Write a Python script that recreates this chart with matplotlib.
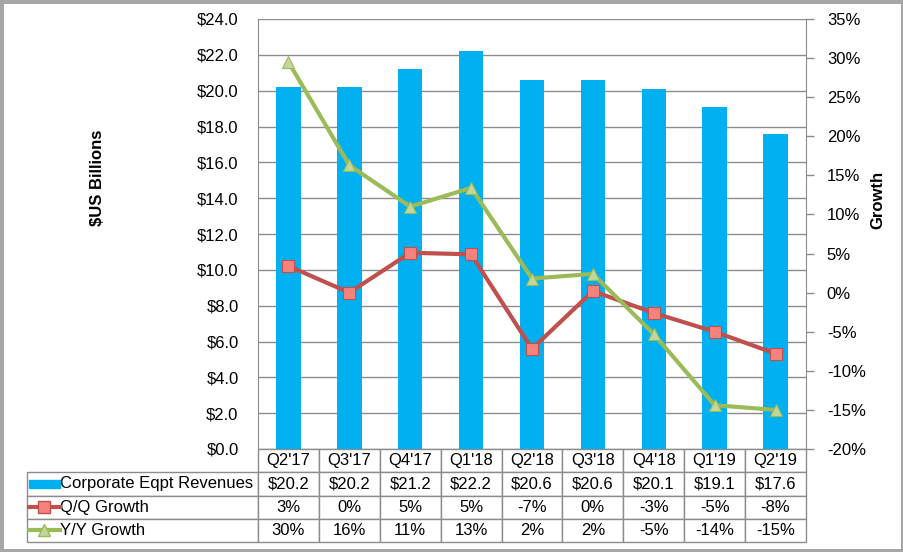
import numpy as np
import matplotlib
matplotlib.use("Agg")
from matplotlib import pyplot as plt
from matplotlib.table import Table
from matplotlib.patches import Rectangle
from matplotlib.lines import Line2D
from matplotlib.ticker import FuncFormatter, MultipleLocator

plt.rcParams["font.family"] = ["Liberation Sans", "DejaVu Sans"]

quarters = ["Q2'17", "Q3'17", "Q4'17", "Q1'18", "Q2'18", "Q3'18", "Q4'18", "Q1'19", "Q2'19"]
revenues = [20.2, 20.2, 21.2, 22.2, 20.6, 20.6, 20.1, 19.1, 17.6]
qq_growth = [3.4, 0.0, 5.1, 4.9, -7.2, 0.2, -2.6, -5.0, -7.8]
yy_growth = [29.5, 16.3, 11.0, 13.4, 1.8, 2.4, -5.3, -14.4, -15.0]

series_names = ["Corporate Eqpt Revenues", "Q/Q Growth", "Y/Y Growth"]

bar_color = "#00B0F0"
qq_color = "#C0504D"
qq_fill = "#F4837D"
yy_color = "#9BBB59"
yy_fill = "#C3D69B"
grid_color = "#8C8C8C"
font_size = 12

fig = plt.figure(figsize=(9.04, 5.52), dpi=100, facecolor="white",
                 edgecolor="#A6A6A6", linewidth=5)

ax = fig.add_axes([258 / 904, 1 - 449 / 552, 548 / 904, 430 / 552])
x = np.arange(len(quarters))

ax.bar(x, revenues, width=0.4, color=bar_color, zorder=2)
ax.set_xlim(-0.5, len(quarters) - 0.5)
ax.set_ylim(0, 24)
ax.yaxis.set_major_locator(MultipleLocator(2))
ax.yaxis.set_major_formatter(FuncFormatter(lambda v, p: f"${v:.1f}"))
ax.grid(axis="y", color=grid_color, linewidth=1, zorder=0)
ax.set_axisbelow(True)
ax.set_xticks([])
ax.tick_params(axis="y", length=0, pad=14, labelsize=font_size)
for side in ["top", "bottom"]:
    ax.spines[side].set_visible(False)
ax.spines["left"].set_color(grid_color)
ax.spines["right"].set_visible(False)
ax.set_ylabel("$US Billions", fontsize=font_size, fontweight="bold")
ax.yaxis.set_label_coords(-0.279, 0.63)

ax2 = ax.twinx()
ax2.plot(x, qq_growth, color=qq_color, linewidth=3, marker="s", markersize=9,
         markerfacecolor=qq_fill, markeredgecolor=qq_color, markeredgewidth=0.8, zorder=3)
ax2.plot(x, yy_growth, color=yy_color, linewidth=3, marker="^", markersize=9,
         markerfacecolor=yy_fill, markeredgecolor=yy_color, markeredgewidth=0.8, zorder=4)
ax2.set_ylim(-20, 35)
ax2.yaxis.set_major_locator(MultipleLocator(5))
ax2.yaxis.set_major_formatter(FuncFormatter(lambda v, p: f"{v:.0f}%"))
ax2.tick_params(axis="y", length=6, width=1, color=grid_color, pad=9, labelsize=font_size)
for side in ["top", "bottom", "left"]:
    ax2.spines[side].set_visible(False)
ax2.spines["right"].set_color(grid_color)
ax2.set_ylabel("Growth", fontsize=font_size, fontweight="bold")
ax2.yaxis.set_label_coords(1.117, 0.579)

# data table under the chart
label_w = 231 / 548
col_w = 1 / len(quarters)
tbl_h = 93 / 430
row_h = tbl_h / 4
tbl = Table(ax, bbox=[-label_w, -tbl_h, 1 + label_w, tbl_h])

rows = [
    [f"${v:.1f}" for v in revenues],
    [f"{v:.0f}%" for v in qq_growth],
    [f"{v:.0f}%" for v in yy_growth],
]

hdr = tbl.add_cell(0, 0, label_w, row_h, text="")
hdr.set_linewidth(0)
for j, q in enumerate(quarters):
    c = tbl.add_cell(0, j + 1, col_w, row_h, text=q, loc="center")
    c.set_edgecolor(grid_color)
for i, (name, vals) in enumerate(zip(series_names, rows)):
    c = tbl.add_cell(i + 1, 0, label_w, row_h, text=name, loc="left")
    c.PAD = 0.145
    c.set_edgecolor(grid_color)
    for j, v in enumerate(vals):
        c = tbl.add_cell(i + 1, j + 1, col_w, row_h, text=v, loc="center")
        c.set_edgecolor(grid_color)
tbl.auto_set_font_size(False)
tbl.set_fontsize(font_size)
ax.add_table(tbl)

# legend keys inside the row label cells
key_x0 = -label_w + 2 / 548
key_x1 = -label_w + 33 / 548
key_mid = (key_x0 + key_x1) / 2
ycen = [-tbl_h + row_h * (2.5 - i) for i in range(3)]
ax.add_patch(Rectangle((key_x0, ycen[0] - 4 / 430), key_x1 - key_x0, 8 / 430,
                       transform=ax.transAxes, color=bar_color, clip_on=False))
ax.add_line(Line2D([key_x0, key_x1], [ycen[1], ycen[1]], transform=ax.transAxes,
                   color=qq_color, linewidth=3, clip_on=False))
ax.add_line(Line2D([key_mid], [ycen[1]], transform=ax.transAxes, marker="s", markersize=8,
                   markerfacecolor=qq_fill, markeredgecolor=qq_color, clip_on=False))
ax.add_line(Line2D([key_x0, key_x1], [ycen[2], ycen[2]], transform=ax.transAxes,
                   color=yy_color, linewidth=3, clip_on=False))
ax.add_line(Line2D([key_mid], [ycen[2]], transform=ax.transAxes, marker="^", markersize=8,
                   markerfacecolor=yy_fill, markeredgecolor=yy_color, clip_on=False))

fig.savefig("out.png", dpi=100, facecolor="white", edgecolor=fig.get_edgecolor())
